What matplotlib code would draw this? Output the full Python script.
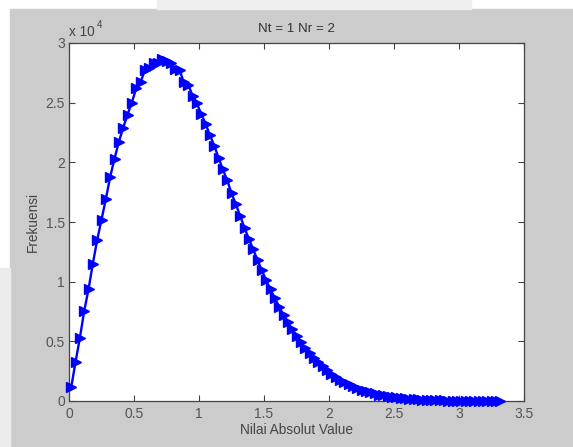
import matplotlib
matplotlib.use("Agg")
import matplotlib.pyplot as plt
from matplotlib.patches import Rectangle
from matplotlib.ticker import FuncFormatter

plt.rcParams['font.family'] = ['Liberation Sans', 'DejaVu Sans']
plt.rcParams['mathtext.fontset'] = 'custom'
plt.rcParams['mathtext.rm'] = 'Liberation Sans'

# histogram bin centres (absolute value) and counts
abs_value = [
    0.017, 0.050, 0.083, 0.117, 0.150, 0.183, 0.217, 0.250, 0.283, 0.317,
    0.350, 0.383, 0.417, 0.450, 0.483, 0.517, 0.550, 0.583, 0.617, 0.650,
    0.683, 0.717, 0.750, 0.783, 0.817, 0.850, 0.883, 0.917, 0.950, 0.983,
    1.017, 1.050, 1.083, 1.117, 1.150, 1.183, 1.217, 1.250, 1.283, 1.317,
    1.350, 1.383, 1.417, 1.450, 1.483, 1.517, 1.550, 1.583, 1.617, 1.650,
    1.683, 1.717, 1.750, 1.783, 1.817, 1.850, 1.883, 1.917, 1.950, 1.983,
    2.017, 2.050, 2.083, 2.117, 2.150, 2.183, 2.217, 2.250, 2.283, 2.317,
    2.350, 2.383, 2.417, 2.450, 2.483, 2.517, 2.550, 2.583, 2.617, 2.650,
    2.683, 2.717, 2.750, 2.783, 2.817, 2.850, 2.883, 2.917, 2.950, 2.983,
    3.017, 3.050, 3.083, 3.117, 3.150, 3.183, 3.217, 3.250, 3.283, 3.317,
]
frekuensi = [
    1150, 3250, 5250, 7550, 9350, 11500, 13500, 15200, 16900, 18800,
    20300, 21700, 22900, 24000, 25000, 26200, 26700, 27700, 27900, 28300,
    28350, 28650, 28450, 28300, 27800, 27750, 26700, 26500, 25600, 24950,
    24050, 23250, 22300, 21400, 20400, 19400, 18500, 17400, 16500, 15500,
    14500, 13600, 12700, 11800, 10950, 10100, 9350, 8600, 7900, 7200,
    6600, 6000, 5450, 4950, 4450, 4000, 3600, 3250, 2900, 2600,
    2300, 2050, 1800, 1600, 1400, 1250, 1080, 950, 830, 720,
    630, 540, 470, 400, 340, 300, 255, 215, 185, 155,
    130, 110, 95, 80, 65, 55, 47, 40, 33, 27,
    22, 18, 15, 12, 10, 8, 6, 5, 4, 3,
]

x_ticks = [0, 0.5, 1, 1.5, 2, 2.5, 3, 3.5]
y_ticks = [0, 5000, 10000, 15000, 20000, 25000, 30000]

fig = plt.figure(figsize=(5.73, 4.47), dpi=100, facecolor='white')

# screenshot frame around the matlab figure window
frame = [
    ((10 / 573, 0), 1 - 10 / 573, 438 / 447, '#cccccc'),
    ((157 / 573, 438 / 447), 314 / 573, 9 / 447, '#efefef'),
    ((0, 0), 10 / 573, 179 / 447, '#ebebeb'),
]
for xy, w, h, c in frame:
    fig.patches.append(Rectangle(xy, w, h, transform=fig.transFigure,
                                 color=c, zorder=-10))

ax = fig.add_axes([69 / 573, 46 / 447, 455 / 573, 358 / 447])
ax.set_zorder(5)
ax.set_facecolor('white')

ax.plot(abs_value, frekuensi, '->', color='#0000ff', linewidth=1.7,
        markersize=6.5, markeredgewidth=1, clip_on=False, zorder=3)

ax.set_xlim(0, 3.5)
ax.set_ylim(0, 30000)
ax.set_xticks(x_ticks)
ax.set_yticks(y_ticks)
ax.xaxis.set_major_formatter(FuncFormatter(lambda v, p: f'{v:g}'))
ax.yaxis.set_major_formatter(FuncFormatter(lambda v, p: f'{v / 1e4:g}'))

ax.tick_params(direction='in', length=4, width=0.8, colors='#444444',
               labelsize=10, top=True, right=True)
ax.tick_params(axis='x', pad=4, labelcolor='#555555')
ax.tick_params(axis='y', pad=3, labelcolor='#555555')
for s in ax.spines.values():
    s.set_color('#444444')
    s.set_linewidth(0.9)

ax.set_title('Nt = 1 Nr = 2', fontsize=9.6, color='#333333', pad=8)
ax.set_xlabel('Nilai Absolut Value', fontsize=9.8, color='#444444', labelpad=2)
ax.set_ylabel('Frekuensi', fontsize=9.8, color='#444444', labelpad=4)

# matlab style exponent note above the y axis
ax.text(0.0, 1.01, 'x 10', transform=ax.transAxes,
        fontsize=9.8, color='#444444', ha='left', va='bottom')
ax.text(0.062, 1.035, '4', transform=ax.transAxes,
        fontsize=7, color='#444444', ha='left', va='bottom')

fig.savefig('out.png', dpi=100, facecolor=fig.get_facecolor())
